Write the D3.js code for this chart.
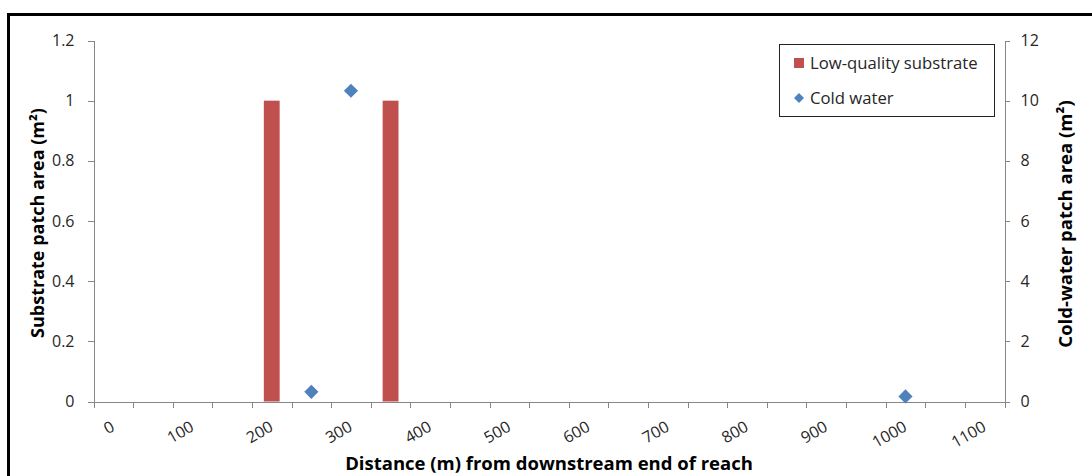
<!DOCTYPE html>
<html>
<head>
<meta charset="utf-8">
<script src="https://cdn.jsdelivr.net/npm/d3@7"></script>
<style>
	body { margin: 0; background: #fff; }
	svg { display: block; font-family: 'Open Sans', sans-serif; }
	.axis path, .axis line { stroke: #868686; shape-rendering: crispEdges; }
	.axis text { fill: #262626; font-size: 16px; font-family: 'Open Sans', sans-serif; }
	.title { font-weight: bold; fill: #000; }
</style>
</head>
<body>
<svg id="chart" width="1092" height="476"></svg>
<script>
'use strict';

// distance categories (m)
var categories = [0, 50, 100, 150, 200, 250, 300, 350, 400, 450, 500, 550,
	600, 650, 700, 750, 800, 850, 900, 950, 1000, 1050, 1100];
var xLabelCats = [0, 100, 200, 300, 400, 500, 600, 700, 800, 900, 1000, 1100];

// low-quality substrate patch area (m2), primary axis
var substrateArea = [0, 0, 0, 0, 1, 0, 0, 1, 0, 0, 0, 0,
	0, 0, 0, 0, 0, 0, 0, 0, 0, 0, 0];
// cold-water patch area (m2), secondary axis
var coldWaterArea = [null, null, null, null, null, 0.32, 10.33, null, null, null, null, null,
	null, null, null, null, null, null, null, null, 0.17, null, null];

var leftTicks = [0, 0.2, 0.4, 0.6, 0.8, 1, 1.2];
var rightTicks = [0, 2, 4, 6, 8, 10, 12];

function DrawPatchChart(selector)
{
	var svg = d3.select(selector);
	if (svg.empty() == true)
	{
		console.log('DrawPatchChart: no element for selector: '+selector);
		return;
	}

	var nLeft = 93.5, nRight = 1004.5, nTop = 40.5, nBottom = 401.5;

	// outer chart frame
	svg.append('rect')
		.attr('x', 8.5).attr('y', 14.5)
		.attr('width', 1200).attr('height', 600)
		.attr('fill', 'none').attr('stroke', '#000').attr('stroke-width', 3);

	var xBand = d3.scaleBand().domain(categories).range([nLeft, nRight]);
	var xIndex = d3.scaleLinear().domain([0, categories.length]).range([nLeft, nRight]);
	var yLeft = d3.scaleLinear().domain([0, 1.2]).range([nBottom, nTop]);
	var yRight = d3.scaleLinear().domain([0, 12]).range([nBottom, nTop]);

	// left axis
	svg.append('g')
		.attr('class', 'axis')
		.attr('transform', 'translate('+nLeft+',0)')
		.call(d3.axisLeft(yLeft).tickValues(leftTicks).tickSize(6).tickSizeOuter(0).tickPadding(13)
			.tickFormat(function(d) { return d3.format('')(+d.toFixed(1)); }));

	// right axis
	svg.append('g')
		.attr('class', 'axis')
		.attr('transform', 'translate('+nRight+',0)')
		.call(d3.axisRight(yRight).tickValues(rightTicks).tickSize(5).tickSizeOuter(0).tickPadding(11));

	// bottom axis, ticks on category boundaries
	svg.append('g')
		.attr('class', 'axis')
		.attr('transform', 'translate(0,'+nBottom+')')
		.call(d3.axisBottom(xIndex).tickValues(d3.range(categories.length + 1)).tickFormat('')
			.tickSize(6).tickSizeOuter(0));

	// rotated category labels (every other category)
	svg.append('g')
		.attr('class', 'axis')
		.selectAll('text')
		.data(xLabelCats)
		.enter()
		.append('text')
		.attr('text-anchor', 'end')
		.attr('transform', function(d) {
			var x = xBand(d) + xBand.bandwidth() / 2 + 2.5;
			return 'translate('+x+',430) rotate(-30)';
		})
		.text(function(d) { return d; });

	// bars
	var nBarWidth = xBand.bandwidth() / 2.5;
	svg.selectAll('rect.bar')
		.data(categories)
		.enter()
		.append('rect')
		.attr('class', 'bar')
		.attr('x', function(d) { return xBand(d) + (xBand.bandwidth() - nBarWidth) / 2; })
		.attr('y', function(d, i) { return yLeft(substrateArea[i]); })
		.attr('width', nBarWidth)
		.attr('height', function(d, i) { return yLeft(0) - yLeft(substrateArea[i]); })
		.attr('fill', '#C0504D');

	// cold water markers
	var diamond = d3.symbol().type(d3.symbolSquare).size(100);
	svg.selectAll('path.cold')
		.data(categories.filter(function(d, i) { return coldWaterArea[i] != null; }))
		.enter()
		.append('path')
		.attr('class', 'cold')
		.attr('d', diamond)
		.attr('fill', '#4F81BD')
		.attr('transform', function(d) {
			var i = categories.indexOf(d);
			return 'translate('+(xBand(d) + xBand.bandwidth() / 2)+','+yRight(coldWaterArea[i])+') rotate(45)';
		});

	// axis titles
	svg.append('text')
		.attr('class', 'title')
		.attr('font-size', 18)
		.attr('text-anchor', 'middle')
		.attr('transform', 'translate(44,223) rotate(-90)')
		.text('Substrate patch area (m²)');

	svg.append('text')
		.attr('class', 'title')
		.attr('font-size', 18.5)
		.attr('text-anchor', 'middle')
		.attr('transform', 'translate(1072,224) rotate(-90)')
		.text('Cold-water patch area (m²)');

	svg.append('text')
		.attr('class', 'title')
		.attr('font-size', 18.5)
		.attr('text-anchor', 'middle')
		.attr('x', 549).attr('y', 470)
		.text('Distance (m) from downstream end of reach');

	// legend
	var legend = svg.append('g');
	legend.append('rect')
		.attr('x', 779.5).attr('y', 44.5).attr('width', 215).attr('height', 72)
		.attr('fill', '#fff').attr('stroke', '#222').attr('stroke-width', 1);
	legend.append('rect')
		.attr('x', 794).attr('y', 58).attr('width', 10).attr('height', 10)
		.attr('fill', '#C0504D');
	legend.append('path')
		.attr('d', d3.symbol().type(d3.symbolSquare).size(50))
		.attr('fill', '#4F81BD')
		.attr('transform', 'translate(799,98) rotate(45)');
	legend.append('text')
		.attr('x', 810).attr('y', 63).attr('dy', '0.35em')
		.attr('font-size', 16.7).attr('fill', '#262626')
		.text('Low-quality substrate');
	legend.append('text')
		.attr('x', 810).attr('y', 98).attr('dy', '0.35em')
		.attr('font-size', 16.7).attr('fill', '#262626')
		.text('Cold water');
}

DrawPatchChart('#chart');
</script>
</body>
</html>
